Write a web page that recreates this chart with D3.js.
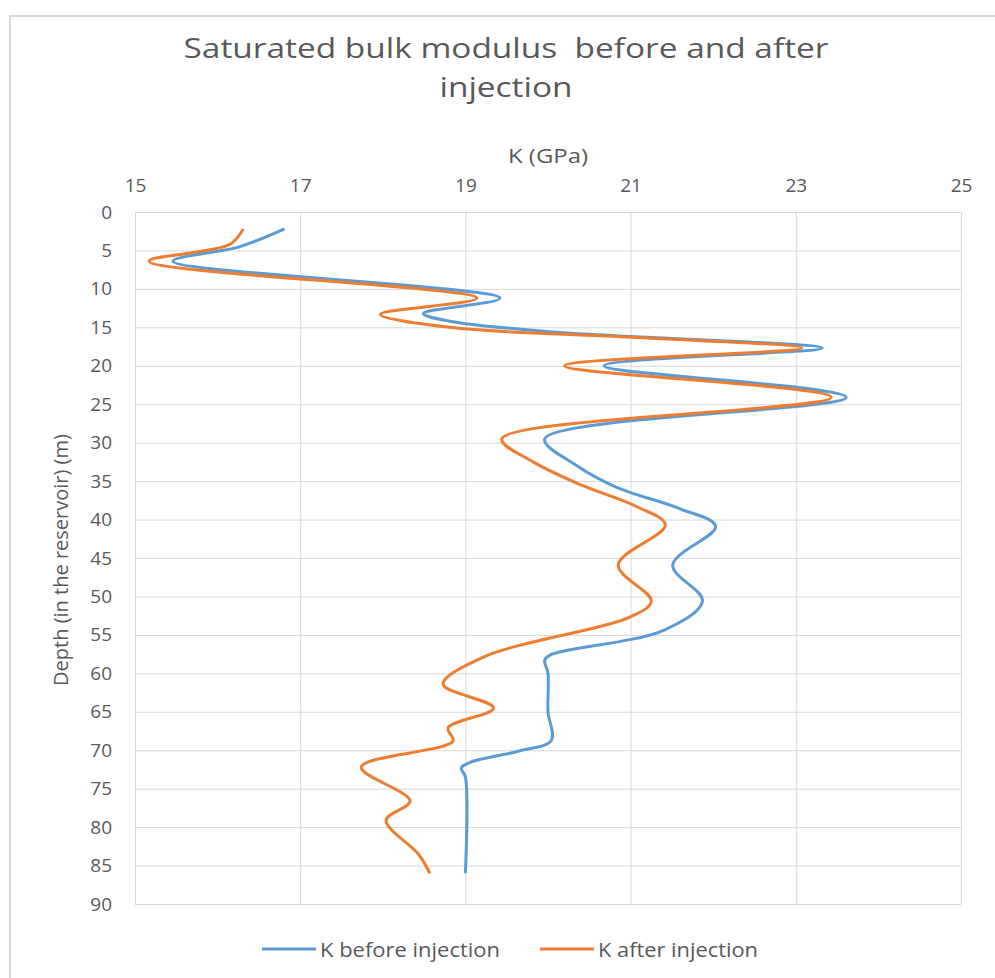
<!DOCTYPE html>
<html>
<head>
<meta charset="utf-8">
<script src="https://cdn.jsdelivr.net/npm/d3@7"></script>
<style>
  body { margin: 0; background: #fff; }
  text { font-family: "Open Sans", sans-serif; fill: #595959; }
</style>
</head>
<body>
<svg id="chart" width="995" height="978"></svg>
<script>
// depth (m) and K (GPa)
const depthBefore = [2.2, 4.5, 6.4, 11.2, 13.2, 14.2, 15.5, 16.3, 17.7, 20.0, 24.1, 29.5, 33.0, 35.8, 38.6, 40.9, 45.9, 50.6, 54.4, 57.6, 58.3, 60, 65, 68.7, 70.1, 71.6, 72.3, 73.5, 86];
const kBefore = [16.81, 16.27, 15.46, 19.42, 18.49, 18.81, 19.95, 21.2, 23.32, 20.68, 23.61, 19.96, 20.35, 20.83, 21.6, 22.03, 21.51, 21.87, 21.4, 20.03, 19.96, 20.0, 20.0, 20.04, 19.65, 19.05, 18.95, 19.0, 19.0];

const depthAfter = [2.2, 4.2, 6.4, 11.2, 13.3, 15.0, 16.3, 17.7, 20.0, 24.1, 29.5, 32.5, 35.5, 38.3, 40.7, 45.9, 50.6, 52.7, 57.7, 61.4, 64.5, 67.1, 68.8, 72.2, 76.6, 79.1, 83.5, 86];
const kAfter = [16.31, 16.15, 15.17, 19.14, 17.97, 18.81, 21.03, 23.07, 20.2, 23.43, 19.44, 19.82, 20.4, 21.07, 21.42, 20.85, 21.25, 20.99, 19.26, 18.73, 19.34, 18.79, 18.85, 17.74, 18.33, 18.04, 18.43, 18.57];

const xTicks = [15, 17, 19, 21, 23, 25];
const yTicks = d3.range(0, 91, 5);

const seriesNames = ["K before injection", "K after injection"];
const seriesColors = ["#5b9bd5", "#ed7d31"];

const svg = d3.select("#chart");

// chart frame
svg.append("rect")
    .attr("x", 10).attr("y", 16)
    .attr("width", 1000).attr("height", 1000)
    .attr("fill", "none")
    .attr("stroke", "#d9d9d9")
    .attr("stroke-width", 2);

const plotLeft = 135, plotRight = 961, plotTop = 212, plotBottom = 904;

const x = d3.scaleLinear().domain([15, 25]).range([plotLeft, plotRight]);
const y = d3.scaleLinear().domain([0, 90]).range([plotTop, plotBottom]);

// grid
svg.append("g")
    .selectAll("line")
    .data(yTicks)
    .join("line")
    .attr("x1", plotLeft).attr("x2", plotRight)
    .attr("y1", d => y(d) + 0.5).attr("y2", d => y(d) + 0.5)
    .attr("stroke", "#d9d9d9");

svg.append("g")
    .selectAll("line")
    .data(xTicks)
    .join("line")
    .attr("x1", d => x(d) + 0.5).attr("x2", d => x(d) + 0.5)
    .attr("y1", plotTop).attr("y2", plotBottom)
    .attr("stroke", "#d9d9d9");

// axes (labels only)
const xAxis = svg.append("g")
    .attr("transform", `translate(0,${plotTop - 20})`)
    .call(d3.axisTop(x).tickValues(xTicks).tickSize(0).tickPadding(0));
xAxis.select(".domain").remove();
xAxis.selectAll("text").attr("font-size", 19).attr("font-family", "Open Sans").attr("fill", "#595959");

const yAxis = svg.append("g")
    .attr("transform", `translate(${plotLeft - 23},0)`)
    .call(d3.axisLeft(y).tickValues(yTicks).tickSize(0).tickPadding(0));
yAxis.select(".domain").remove();
yAxis.selectAll("text").attr("font-size", 19).attr("font-family", "Open Sans").attr("fill", "#595959");

// titles
const title = svg.append("g")
    .attr("font-size", 27);
title.append("text")
    .attr("x", 506).attr("y", 58)
    .attr("text-anchor", "middle")
    .attr("xml:space", "preserve")
    .attr("textLength", 645)
    .attr("lengthAdjust", "spacingAndGlyphs")
    .text("Saturated bulk modulus  before and after");
title.append("text")
    .attr("x", 506).attr("y", 97)
    .attr("text-anchor", "middle")
    .attr("textLength", 133)
    .attr("lengthAdjust", "spacingAndGlyphs")
    .text("injection");

svg.append("text")
    .attr("x", 548).attr("y", 163)
    .attr("text-anchor", "middle")
    .attr("font-size", 20)
    .attr("textLength", 80)
    .attr("lengthAdjust", "spacingAndGlyphs")
    .text("K (GPa)");

svg.append("text")
    .attr("transform", "translate(68,560) rotate(-90)")
    .attr("text-anchor", "middle")
    .attr("font-size", 20)
    .text("Depth (in the reservoir) (m)");

// lines
const line = d3.line()
    .x(d => x(d[1]))
    .y(d => y(d[0]))
    .curve(d3.curveCatmullRom.alpha(0.5));

const series = [
    d3.zip(depthBefore, kBefore),
    d3.zip(depthAfter, kAfter)
];

svg.append("g")
    .selectAll("path")
    .data(series)
    .join("path")
    .attr("d", line)
    .attr("fill", "none")
    .attr("stroke", (d, i) => seriesColors[i])
    .attr("stroke-width", 3)
    .attr("stroke-linejoin", "round");

// legend
const legendX = [262, 540];
const legendW = [180, 160];
const legend = svg.append("g")
    .selectAll("g")
    .data(seriesNames)
    .join("g")
    .attr("transform", (d, i) => `translate(${legendX[i]},949)`);

legend.append("line")
    .attr("x1", 0).attr("x2", 54)
    .attr("stroke", (d, i) => seriesColors[i])
    .attr("stroke-width", 3);

legend.append("text")
    .attr("x", 58).attr("y", 8)
    .attr("font-size", 20)
    .attr("textLength", (d, i) => legendW[i])
    .attr("lengthAdjust", "spacingAndGlyphs")
    .text(d => d);
</script>
</body>
</html>
